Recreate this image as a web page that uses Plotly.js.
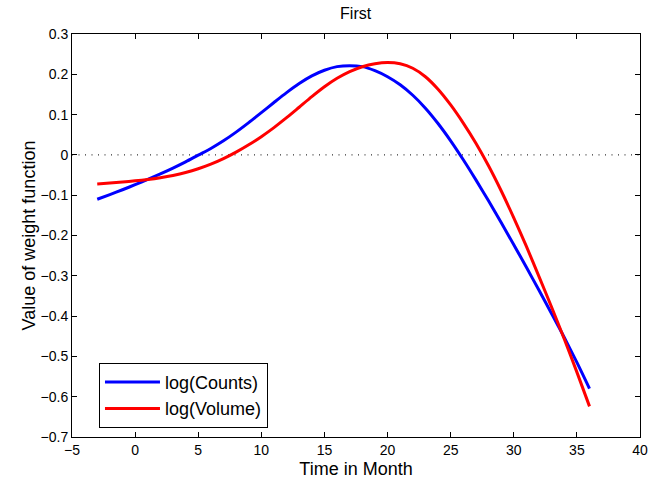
<!DOCTYPE html>
<html>
<head>
<meta charset="utf-8">
<script src="https://cdn.plot.ly/plotly-3.0.1.min.js"></script>
<style>html,body{margin:0;padding:0;background:#fff;}#chart{width:649px;height:485px;}</style>
</head>
<body>
<div id="chart"></div>
<script>
var months = [-3,-2,-1,0,1,2,3,4,5,6,7,8,9,10,11,12,13,14,15,16,17,18,19,20,21,22,23,24,25,26,27,28,29,30,31,32,33,34,35,36];
var logCounts = [-0.110,-0.0985,-0.0865,-0.074,-0.061,-0.0473,-0.0328,-0.0173,-0.0005,0.016,0.035,0.0565,0.080,0.1048,0.130,0.1545,0.177,0.196,0.210,0.219,0.2215,0.219,0.209,0.194,0.174,0.148,0.116,0.078,0.035,-0.012,-0.062,-0.114,-0.168,-0.223,-0.279,-0.336,-0.394,-0.453,-0.515,-0.580];
var logVolume = [-0.072,-0.0698,-0.0673,-0.0644,-0.0609,-0.0565,-0.0509,-0.0437,-0.0345,-0.023,-0.0092,0.0068,0.025,0.0453,0.0678,0.0923,0.1183,0.1445,0.169,0.190,0.2065,0.2187,0.226,0.229,0.226,0.215,0.194,0.163,0.124,0.079,0.029,-0.027,-0.089,-0.156,-0.227,-0.302,-0.378,-0.457,-0.539,-0.624];
var seriesNames = ['log(Counts)', 'log(Volume)'];
var xTicks = [-5,0,5,10,15,20,25,30,35,40];
var yTicks = [-0.7,-0.6,-0.5,-0.4,-0.3,-0.2,-0.1,0,0.1,0.2,0.3];

var font = 'Liberation Sans, Arial, Helvetica, sans-serif';
var traces = [
  {x: months, y: logCounts, name: seriesNames[0], mode: 'lines', line: {color: '#0000ff', width: 3, shape: 'spline', smoothing: 0.8}},
  {x: months, y: logVolume, name: seriesNames[1], mode: 'lines', line: {color: '#ff0000', width: 3, shape: 'spline', smoothing: 0.8}}
];
var axisCommon = {
  showgrid: false, zeroline: false, showline: true, linecolor: '#000', linewidth: 1,
  mirror: 'ticks', ticks: 'inside', ticklen: 5, tickcolor: '#000', tickwidth: 1,
  tickfont: {family: font, size: 14, color: '#000'}, tickmode: 'array'
};
var layout = {
  width: 649, height: 485,
  margin: {l: 72, r: 9, t: 33.5, b: 47.5},
  paper_bgcolor: '#fff', plot_bgcolor: '#fff',
  title: {text: 'First', font: {family: font, size: 16, color: '#000'}, x: 0.548, xanchor: 'center', y: 0.972, yanchor: 'middle'},
  xaxis: Object.assign({}, axisCommon, {range: [-5, 40], tickvals: xTicks, ticktext: xTicks.map(function(v){return v<0?'\u2212'+Math.abs(v):String(v);}),
    title: {text: 'Time in Month', font: {family: font, size: 18, color: '#000'}, standoff: 5}}),
  yaxis: Object.assign({}, axisCommon, {range: [-0.7, 0.3], tickvals: yTicks, ticktext: yTicks.map(function(v){return v===0?'0':(v<0?'\u2212'+Math.abs(v).toFixed(1):v.toFixed(1));}),
    title: {text: 'Value of weight function', font: {family: font, size: 18, color: '#000'}, standoff: 0}}),
  shapes: [{type: 'line', xref: 'paper', x0: 0, x1: 1, yref: 'y', y0: 0, y1: 0, line: {color: '#000', width: 1, dash: '1px,5.5px'}, layer: 'below'}],
  showlegend: true,
  legend: {x: 0.0475, y: 0.184, xanchor: 'left', yanchor: 'top', bgcolor: '#fff', bordercolor: '#000', borderwidth: 1,
    font: {family: font, size: 18, color: '#000'}, itemwidth: 55, tracegroupgap: 0}
};
Plotly.newPlot('chart', traces, layout, {displayModeBar: false, staticPlot: true});
</script>
</body>
</html>
